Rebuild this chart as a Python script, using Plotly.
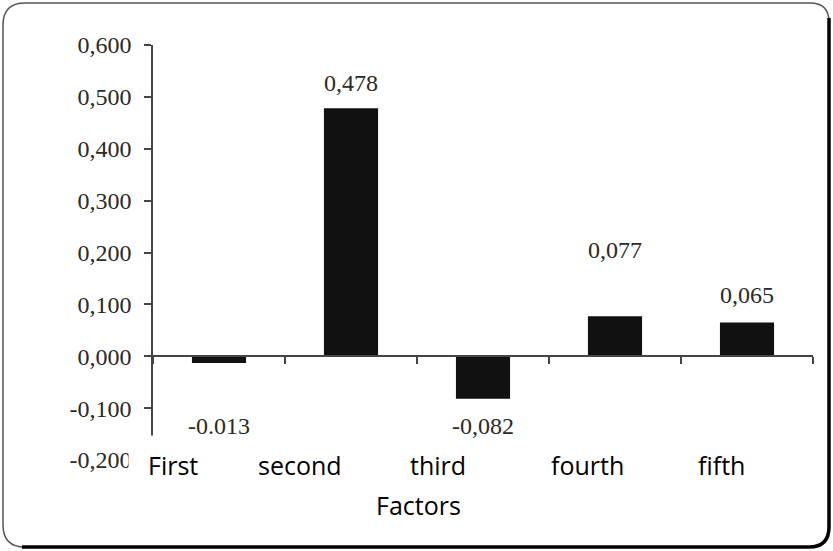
import plotly.graph_objects as go

# ---- data ----
categories = ["First", "second", "third", "fourth", "fifth"]
values = [-0.013, 0.478, -0.082, 0.077, 0.065]
value_labels = ["-0.013", "0,478", "-0,082", "0,077", "0,065"]
y_tickvals = [-0.2, -0.1, 0.0, 0.1, 0.2, 0.3, 0.4, 0.5, 0.6]
y_ticktext = ["-0,200", "-0,100", "0,000", "0,100", "0,200", "0,300", "0,400", "0,500", "0,600"]
x_title = "Factors"

# ---- layout geometry (pixels) ----
W, H = 833, 551
ML, MR, MT, MB = 153, 20, 45, 91
PW, PH = W - ML - MR, H - MT - MB


def px(x):
    return (x - ML) / PW


def py(y):
    return (H - MB - y) / PH


# label placement tweaks (category-index offsets / pixel shifts)
cat_label_x = [-0.348, 0.614, 1.659, 2.795, 3.803]
val_label_shift = [-63, 25, -27, 66, 28]

serif = "Liberation Serif"
sans = "Open Sans"

fig = go.Figure()
fig.add_trace(go.Bar(
    x=list(range(len(categories))), y=values,
    marker=dict(color="#111111", line=dict(width=0)),
    width=0.41, hoverinfo="skip",
))

annotations = []
for i, (v, t, s) in enumerate(zip(values, value_labels, val_label_shift)):
    annotations.append(dict(
        x=i, y=v, xref="x", yref="y", text=t, showarrow=False,
        xanchor="center", yanchor="middle", yshift=s,
        font=dict(family=serif, size=24, color="#2a2a2a"),
    ))

# white box hiding the bottom of the value axis (as in the reference)
annotations.append(dict(
    x=px(128), y=py(435), xref="paper", yref="paper", text=" ",
    showarrow=False, xanchor="left", yanchor="top",
    width=60, height=45, bgcolor="white", borderpad=0,
))

for xi, c in zip(cat_label_x, categories):
    annotations.append(dict(
        x=xi, y=py(465), xref="x", yref="paper", text=c, showarrow=False,
        xanchor="center", yanchor="middle",
        font=dict(family=sans, size=25, color="#000000"),
    ))

annotations.append(dict(
    x=px(418), y=py(505), xref="paper", yref="paper", text=x_title,
    showarrow=False, xanchor="center", yanchor="middle",
    font=dict(family=sans, size=25, color="#000000"),
))

# rounded frame
def P(x, y):
    return f"{px(x):.5f},{py(y):.5f}"

frame = (f"M {P(3,25)} Q {P(3,3)} {P(25,3)} L {P(810,3)} Q {P(829,3)} {P(829,22)} "
         f"L {P(829,527)} Q {P(829,547)} {P(809,547)} L {P(25,547)} Q {P(3,547)} {P(3,525)} Z")
shadow = f"M {P(829,18)} L {P(829,527)} Q {P(829,547)} {P(809,547)} L {P(22,547)}"

shapes = [
    dict(type="path", xref="paper", yref="paper", path=frame,
         line=dict(color="#555555", width=1.5), layer="above"),
    dict(type="path", xref="paper", yref="paper", path=shadow,
         line=dict(color="#000000", width=3.5), layer="above"),
]

fig.update_layout(
    width=W, height=H,
    margin=dict(l=ML, r=MR, t=MT, b=MB, pad=0),
    paper_bgcolor="white", plot_bgcolor="white",
    showlegend=False,
    annotations=annotations,
    shapes=shapes,
    xaxis=dict(
        range=[-0.5, len(categories) - 0.5],
        anchor="free", position=(0 - (-0.2)) / 0.8,
        showline=True, linecolor="#444444", linewidth=1.5,
        ticks="outside", ticklen=7, tickwidth=1.5, tickcolor="#444444",
        tickmode="array", tickvals=[i + 0.5 for i in range(-1, len(categories))],
        showticklabels=False, showgrid=False, zeroline=False, automargin=False,
    ),
    yaxis=dict(
        range=[-0.2, 0.6],
        tickmode="array", tickvals=y_tickvals, ticktext=y_ticktext,
        showline=True, linecolor="#444444", linewidth=1.5,
        ticks="outside", ticklen=7, tickwidth=1.5, tickcolor="#444444",
        ticklabelstandoff=8,
        tickfont=dict(family=serif, size=24, color="#2a2a2a"),
        showgrid=False, zeroline=False, automargin=False,
    ),
)

fig.write_html("out.html", config={"displayModeBar": False},
               post_script="document.body.style.margin='0px';")
